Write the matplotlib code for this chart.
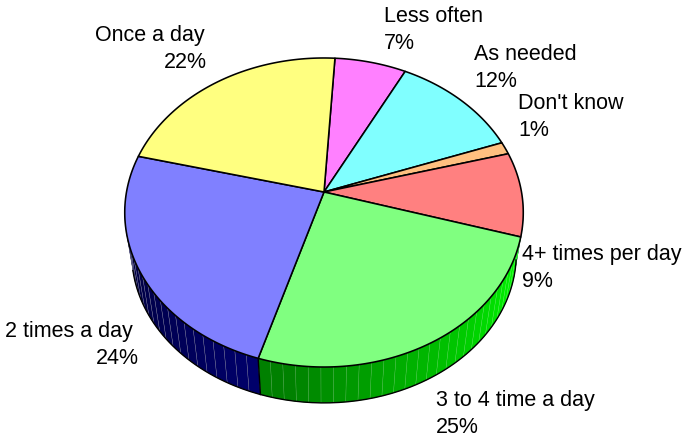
import numpy as np
import matplotlib
matplotlib.use("Agg")
import matplotlib.pyplot as plt

categories = ["Less often", "As needed", "Don't know", "4+ times per day",
              "3 to 4 time a day", "2 times a day", "Once a day"]
values = [6.6, 11.9, 1.3, 8.8, 25.1, 24.2, 22.1]
top_colors = ["#FF80FF", "#80FFFF", "#FFC080", "#FF8080", "#80FF80", "#8080FF", "#FFFF80"]
start_angle = 3.6

# layout (pixel coordinates)
CX, CY, A, B, K = 324, 193, 197.5, 151.8, 0.1327
S, DY = 0.965, 42
# name x, percent x, first baseline, alignment
label_pos = [(384, 384, 22, "left"), (474, 474, 60, "left"), (518, 518, 109, "left"),
             (522, 522, 260, "left"), (436, 436, 406, "left"),
             (133, 139, 337, "right"), (205, 207, 41, "right")]

plt.rcParams["font.family"] = ["Liberation Sans", "DejaVu Sans"]
fig = plt.figure(figsize=(6.84, 4.39), dpi=100)
ax = fig.add_axes([0, 0, 1, 1])
ax.set_xlim(0, 684)
ax.set_ylim(439, 0)
ax.axis("off")


def proj(deg, r=1.0, bottom=False):
    t = np.radians(deg)
    u, v = r * np.sin(t), r * np.cos(t)
    w = 1 / (1 + K * v)
    x, y = A * u * w, -B * v * w
    if bottom:
        return CX + S * x, CY + S * y + DY
    return CX + x, CY + y


vals = np.array(values)
edges = start_angle + np.concatenate([[0], np.cumsum(vals)]) * 360 / vals.sum()

# side walls (facets)
sides = []
for i, (a0, a1) in enumerate(zip(edges[:-1], edges[1:])):
    n = max(1, int(round((a1 - a0) / 3.2)))
    fs = np.linspace(a0, a1, n + 1)
    for f0, f1 in zip(fs[:-1], fs[1:]):
        mid = (f0 + f1) / 2
        if 95 < mid < 265:
            sides.append((i, f0, f1, mid))
for i, f0, f1, mid in sides:
    ang = np.linspace(f0, f1, 4)
    xt, yt = proj(ang)
    xb, yb = proj(ang, bottom=True)
    if i == 4:
        frac = np.clip((190 - mid) / 85, 0, 1)
        col = (0, (0.5 + 0.5 * frac), 0)
        edge = (0.25, 0.62 + 0.38 * frac, 0.25)
    else:
        frac = np.clip((mid - 197) / 65, 0, 1)
        col = (0, 0, 0.42 - 0.2 * frac)
        edge = (0.4, 0.4, 0.55)
    ax.fill(np.r_[xt, xb[::-1]], np.r_[yt, yb[::-1]], facecolor=col, edgecolor=edge, lw=0.3, zorder=2)

# outer outline of walls and their divider
ang = np.linspace(100, 256, 200)
xb, yb = proj(ang, bottom=True)
ax.plot(xb, yb, color="black", lw=1.0, zorder=3)
pt, pb = proj(edges[5]), proj(edges[5], bottom=True)
ax.plot([pt[0], pb[0]], [pt[1], pb[1]], color="black", lw=1.0, zorder=3)

# top surface
for i, (a0, a1) in enumerate(zip(edges[:-1], edges[1:])):
    ang = np.linspace(a0, a1, 80)
    x, y = proj(ang)
    ax.fill(np.r_[CX, x], np.r_[CY, y], facecolor=top_colors[i], edgecolor="black",
            lw=1.15, joinstyle="round", zorder=4)

# labels
for name, v, (xn, xp, y, ha) in zip(categories, values, label_pos):
    ax.text(xn, y, name, ha=ha, va="baseline", fontsize=15.5, color="black", zorder=5)
    ax.text(xp, y + 27, f"{round(v):d}%", ha=ha, va="baseline", fontsize=15.5, color="black", zorder=5)

fig.savefig("out.png", dpi=100)
